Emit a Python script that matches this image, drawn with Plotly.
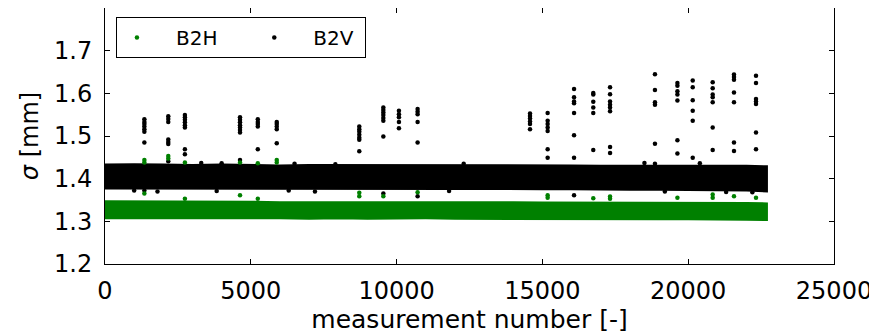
import plotly.graph_objects as go

# ---------------- data ----------------
# dense measurement band envelopes (sampled along the measurement number)
band_x = [0, 1000, 2000, 3000, 4000, 5000, 6000, 7000, 8000, 9000, 10000, 11000,
          12000, 13000, 14000, 15000, 16000, 17000, 18000, 19000, 20000, 21000, 22000, 22700]
b2v_hi = [1.433, 1.434, 1.433, 1.432, 1.433, 1.432, 1.431, 1.432, 1.432, 1.431, 1.432, 1.431,
          1.432, 1.431, 1.432, 1.431, 1.431, 1.430, 1.430, 1.431, 1.430, 1.430, 1.430, 1.429]
b2v_lo = [1.377, 1.376, 1.377, 1.376, 1.377, 1.376, 1.376, 1.377, 1.376, 1.376, 1.377, 1.376,
          1.376, 1.376, 1.376, 1.375, 1.375, 1.375, 1.374, 1.374, 1.374, 1.373, 1.372, 1.370]
b2h_hi = [1.347, 1.347, 1.346, 1.346, 1.346, 1.346, 1.345, 1.345, 1.346, 1.345, 1.345, 1.345,
          1.345, 1.345, 1.345, 1.344, 1.344, 1.344, 1.344, 1.344, 1.343, 1.343, 1.343, 1.342]
b2h_lo = [1.307, 1.307, 1.307, 1.307, 1.306, 1.307, 1.307, 1.306, 1.307, 1.306, 1.306, 1.307,
          1.306, 1.306, 1.306, 1.306, 1.306, 1.306, 1.305, 1.305, 1.305, 1.305, 1.304, 1.303]

# individual B2V points outside the band
b2v_pts_x = ([1350] * 8 + [2170] * 7 + [2740] * 8 + [4630] * 8 + [5240] * 5 + [5890] * 5 +
             [8720] * 7 + [9545] * 8 + [10080] * 5 + [10720] * 6 + [14575] * 6 + [15180] * 7 +
             [16085] * 8 + [16745] * 6 + [17320] * 8 + [18860] * 6 + [19630] * 7 + [20155] * 6 +
             [20840] * 7 + [21570] * 7 + [22325] * 7 +
             [1000, 1800, 3300, 3830, 4000, 6300, 6500, 7200, 7900, 11800, 12300, 18500,
              19200, 20400, 21300, 22200])
b2v_pts_y = ([1.539, 1.533, 1.528, 1.522, 1.516, 1.510, 1.485, 1.372] +
             [1.546, 1.540, 1.533, 1.492, 1.486, 1.481, 1.441] +
             [1.549, 1.544, 1.538, 1.532, 1.525, 1.520, 1.469, 1.457] +
             [1.544, 1.538, 1.532, 1.525, 1.520, 1.514, 1.508, 1.444] +
             [1.539, 1.533, 1.528, 1.522, 1.469] +
             [1.533, 1.528, 1.522, 1.516, 1.483] +
             [1.522, 1.516, 1.510, 1.503, 1.496, 1.491, 1.464] +
             [1.567, 1.561, 1.555, 1.549, 1.542, 1.536, 1.499, 1.365] +
             [1.559, 1.551, 1.544, 1.533, 1.518] +
             [1.563, 1.557, 1.551, 1.533, 1.485, 1.359] +
             [1.553, 1.547, 1.541, 1.534, 1.528, 1.516] +
             [1.554, 1.536, 1.528, 1.520, 1.512, 1.469, 1.449] +
             [1.610, 1.591, 1.581, 1.577, 1.554, 1.502, 1.449, 1.361] +
             [1.601, 1.597, 1.580, 1.567, 1.554, 1.467] +
             [1.614, 1.598, 1.581, 1.573, 1.567, 1.558, 1.474, 1.460] +
             [1.645, 1.608, 1.579, 1.573, 1.482, 1.435] +
             [1.624, 1.618, 1.605, 1.597, 1.583, 1.490, 1.459] +
             [1.630, 1.614, 1.584, 1.559, 1.536, 1.449] +
             [1.626, 1.612, 1.597, 1.591, 1.579, 1.520, 1.467] +
             [1.644, 1.638, 1.632, 1.602, 1.579, 1.485, 1.465] +
             [1.641, 1.624, 1.587, 1.581, 1.575, 1.508, 1.469] +
             [1.372, 1.370, 1.437, 1.371, 1.436, 1.372, 1.435, 1.370, 1.434, 1.371, 1.435, 1.437,
              1.370, 1.436, 1.369, 1.368])

# individual B2H points outside the band
b2h_pts_x = [1350, 1350, 1350, 2170, 2170, 2740, 2740, 4630, 4630, 5240, 5240, 5890, 5890,
             8720, 8720, 9545, 10720, 15180, 15180, 16745, 17320, 17320, 19630,
             20840, 20840, 21570, 22325]
b2h_pts_y = [1.444, 1.438, 1.365, 1.453, 1.447, 1.438, 1.353, 1.438, 1.361, 1.436, 1.353,
             1.444, 1.438, 1.367, 1.359, 1.359, 1.368, 1.361, 1.355, 1.354, 1.358, 1.353,
             1.355, 1.363, 1.355, 1.359, 1.355]

x_ticks = [0, 5000, 10000, 15000, 20000, 25000]
y_ticks = [1.2, 1.3, 1.4, 1.5, 1.6, 1.7]

GREEN = "#008000"
BLACK = "#000000"
FONT = "DejaVu Sans"
NB = "\u00a0"

fig = go.Figure()

# dense bands
fig.add_trace(go.Scatter(x=band_x + band_x[::-1], y=b2h_hi + b2h_lo[::-1], mode="lines",
                         fill="toself", fillcolor=GREEN, line=dict(color=GREEN, width=2),
                         showlegend=False, hoverinfo="skip"))
fig.add_trace(go.Scatter(x=band_x + band_x[::-1], y=b2v_hi + b2v_lo[::-1], mode="lines",
                         fill="toself", fillcolor=BLACK, line=dict(color=BLACK, width=2),
                         showlegend=False, hoverinfo="skip"))
# individual points (legend entries)
fig.add_trace(go.Scatter(x=b2v_pts_x, y=b2v_pts_y, mode="markers", name=NB * 3 + "B2V" + NB,
                         marker=dict(color=BLACK, size=4.5), legendrank=2))
fig.add_trace(go.Scatter(x=b2h_pts_x, y=b2h_pts_y, mode="markers", name=NB * 3 + "B2H" + NB * 5,
                         marker=dict(color=GREEN, size=4.5), legendrank=1))

axis_common = dict(showline=True, linecolor="black", linewidth=1, mirror="ticks",
                   ticks="inside", ticklen=5, tickwidth=1, tickcolor="black",
                   showgrid=False, zeroline=False, automargin=False,
                   tickfont=dict(family=FONT, size=24, color="black"))

fig.update_xaxes(range=[0, 25000], tickvals=x_ticks, ticktext=[str(v) for v in x_ticks],
                 title=dict(text="measurement number [-]", font=dict(family=FONT, size=25, color="black"),
                            standoff=1),
                 ticklabelstandoff=5, **axis_common)
fig.update_yaxes(range=[1.2, 1.8], tickvals=y_ticks, ticktext=[f"{v:.1f}" for v in y_ticks],
                 title=dict(text="<i>σ</i> [mm]", font=dict(family=FONT, size=24, color="black"),
                            standoff=8),
                 ticklabelstandoff=7, **axis_common)

# the page body adds an 8 px offset; compensate so the plot area lands at
# x 105..834, y 8..264 in the 877x334 window
fig.update_layout(
    width=869, height=326,
    margin=dict(l=97, r=43, t=0, b=70),
    paper_bgcolor="white", plot_bgcolor="white",
    font=dict(family=FONT, color="black"),
    showlegend=True,
    legend=dict(orientation="h", x=0.015, y=0.965, xanchor="left", yanchor="top",
                bordercolor="black", borderwidth=1, bgcolor="white",
                font=dict(family=FONT, size=20, color="black"),
                itemwidth=30, traceorder="normal"),
)

fig.write_html("out.html")
